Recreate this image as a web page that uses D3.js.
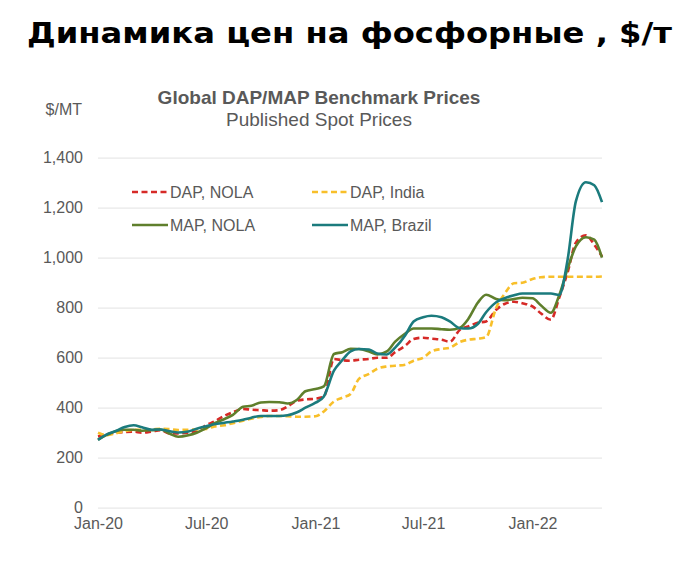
<!DOCTYPE html>
<html><head><meta charset="utf-8">
<script src="https://cdn.jsdelivr.net/npm/d3@7"></script>
<style>
html,body{margin:0;padding:0;background:#fff;}
svg{display:block;}
</style></head>
<body>
<svg id="chart" width="686" height="564"></svg>
<script>
const dates = [
 "2020-01-01","2020-01-15","2020-02-01","2020-02-15","2020-03-01","2020-03-15","2020-04-01","2020-04-15","2020-05-01","2020-05-15","2020-06-01","2020-06-15",
 "2020-07-01","2020-07-15","2020-08-01","2020-08-15","2020-09-01","2020-09-15","2020-10-01","2020-10-15","2020-11-01","2020-11-15","2020-12-01","2020-12-15",
 "2021-01-01","2021-01-15","2021-02-01","2021-02-15","2021-03-01","2021-03-15","2021-04-01","2021-04-15","2021-05-01","2021-05-15","2021-06-01","2021-06-15",
 "2021-07-01","2021-07-15","2021-08-01","2021-08-15","2021-09-01","2021-09-15","2021-10-01","2021-10-15","2021-11-01","2021-11-15","2021-12-01","2021-12-15",
 "2022-01-01","2022-01-15","2022-02-01","2022-02-15","2022-03-01","2022-03-15","2022-04-01","2022-04-15","2022-04-28"
];
const dapNola = [285,293,300,303,304,300,305,310,297,297,300,305, 330,345,368,382,395,392,390,388,390,405,428,433,
 436,444,595,590,588,592,595,600,600,622,648,675, 680,676,672,664,712,725,740,745,792,815,824,818,
 805,778,752,840,940,1060,1090,1052,1005];
const dapIndia = [300,290,298,306,311,312,313,316,314,311,312,313, 315,325,330,338,348,356,363,367,367,366,364,364,
 366,385,425,440,455,515,535,556,565,568,572,588, 600,625,635,640,663,672,676,682,800,855,898,900,
 915,922,924,924,924,924,924,924,925];
const mapNola = [272,290,307,312,312,308,310,313,296,284,290,300, 318,338,355,371,404,408,421,423,422,417,432,466,
 475,485,615,622,636,635,625,613,625,664,697,717, 717,717,714,712,720,755,820,852,835,830,835,840,
 838,810,780,850,955,1045,1082,1072,1000];
const mapBrazil = [271,292,308,323,330,322,312,313,306,301,305,316, 326,334,340,345,352,360,367,367,367,370,382,400,
 420,445,548,590,625,635,633,617,613,640,690,745, 762,768,762,745,718,717,735,782,822,838,850,857,
 857,857,857,851,990,1225,1302,1290,1222];

const seriesNames = ["DAP, NOLA","DAP, India","MAP, NOLA","MAP, Brazil"];
const seriesValues = [dapNola, dapIndia, mapNola, mapBrazil];
const seriesColors = ["#d62a27","#f8bf2a","#5f7f2c","#1b7b7d"];
const seriesDashed = [true,true,false,false];
const yTicks = [0,200,400,600,800,1000,1200,1400];
const xTickDates = ["2020-01-01","2020-07-01","2021-01-01","2021-07-01","2022-01-01"];

const parse = d3.timeParse("%Y-%m-%d");
const svg = d3.select("#chart");
const font = "'Liberation Sans', Arial, sans-serif";
const gray = "#595959";

const x = d3.scaleTime().domain([parse("2020-01-01"), parse("2022-04-28")]).range([98, 602]);
const y = d3.scaleLinear().domain([0, 1400]).range([507.7, 157.7]);

// main title
svg.append("text").attr("x", 27).attr("y", 43)
  .attr("textLength", 645).attr("lengthAdjust", "spacingAndGlyphs")
  .style("font-family", "'DejaVu Sans', sans-serif").style("font-weight", "bold")
  .style("font-size", "28px").style("fill", "#000")
  .text("Динамика цен на фосфорные , $/т");

// chart titles
svg.append("text").attr("x", 319).attr("y", 104).attr("text-anchor", "middle")
  .style("font-family", font).style("font-weight", "bold").style("font-size", "19px").style("fill", gray)
  .text("Global DAP/MAP Benchmark Prices");
svg.append("text").attr("x", 319).attr("y", 126).attr("text-anchor", "middle")
  .style("font-family", font).style("font-size", "19px").style("fill", gray)
  .text("Published Spot Prices");
svg.append("text").attr("x", 82).attr("y", 115).attr("text-anchor", "end")
  .style("font-family", font).style("font-size", "16px").style("fill", gray)
  .text("$/MT");

// grid + y axis
const yAxis = d3.axisLeft(y).tickValues(yTicks).tickFormat(d3.format(",")).tickSize(-(602 - 98)).tickPadding(15);
const gy = svg.append("g").attr("transform", "translate(98,0)").call(yAxis);
gy.select(".domain").remove();
gy.selectAll(".tick line").attr("stroke", "#e8e8e8").attr("stroke-width", 1.3);
gy.selectAll(".tick text").style("font-family", font).style("font-size", "16px").style("fill", gray);

// x axis
const xAxis = d3.axisBottom(x).tickValues(xTickDates.map(parse)).tickFormat(d3.timeFormat("%b-%y")).tickSize(0).tickPadding(10);
const gx = svg.append("g").attr("transform", "translate(0,507.7)").call(xAxis);
gx.select(".domain").remove();
gx.selectAll(".tick text").style("font-family", font).style("font-size", "16px").style("fill", gray);

// lines
const line = d3.line().x(d => x(d.date)).y(d => y(d.value)).curve(d3.curveMonotoneX);
seriesValues.forEach((vals, i) => {
  const data = dates.map((d, j) => ({date: parse(d), value: vals[j]}));
  svg.append("path").datum(data).attr("d", line)
    .attr("fill", "none").attr("stroke", seriesColors[i]).attr("stroke-width", 2.6)
    .attr("stroke-linejoin", "round")
    .attr("stroke-dasharray", seriesDashed[i] ? "6,3.5" : null);
});

// legend
const legendPos = [[132, 192], [312, 192], [132, 225], [312, 225]];
seriesNames.forEach((name, i) => {
  const [lx, ly] = legendPos[i];
  svg.append("line").attr("x1", lx).attr("x2", lx + 36).attr("y1", ly).attr("y2", ly)
    .attr("stroke", seriesColors[i]).attr("stroke-width", 2.6)
    .attr("stroke-dasharray", seriesDashed[i] ? "6,3.5" : null);
  svg.append("text").attr("x", lx + 38).attr("y", ly + 6)
    .style("font-family", font).style("font-size", "16px").style("fill", gray)
    .text(name);
});
</script>
</body></html>
